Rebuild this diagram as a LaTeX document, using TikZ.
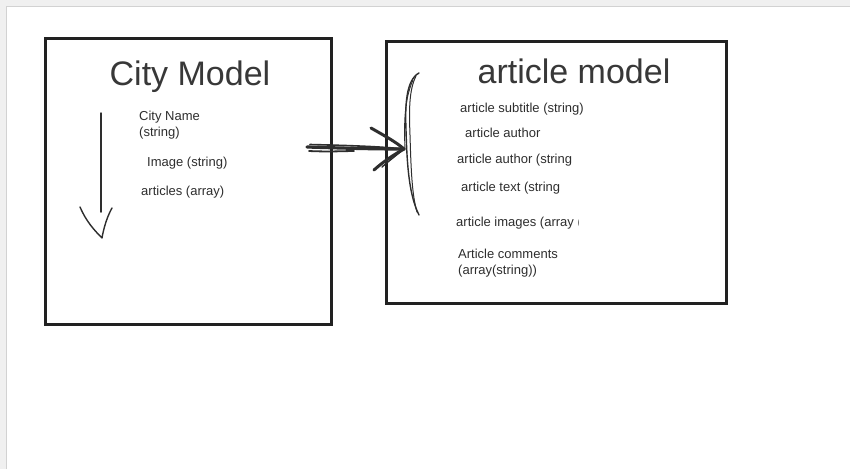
\documentclass[tikz,border=0pt]{standalone}
\usepackage{fontspec}
\setmainfont{Liberation Sans}
\begin{document}
\begin{tikzpicture}[x=1pt,y=-1pt,
  frame/.style={draw=black!87,line width=3pt},
  title/.style={anchor=base,text=black!78,font=\fontsize{34}{38}\selectfont,inner sep=0pt},
  field/.style={anchor=base west,text=black!82,font=\fontsize{13}{15}\selectfont,inner sep=0pt},
  sketch/.style={draw=black!82,line cap=round,line join=round},
]
\useasboundingbox (0,0) rectangle (850,469);
% page background
\fill[gray!12] (0,0) rectangle (850,469);
\fill[white] (6.5,6.5) rectangle (850,469);
\draw[gray!35,line width=1.2pt] (6.5,469) -- (6.5,6.5) -- (850,6.5);
% boxes
\node[frame,minimum width=286pt,minimum height=286pt,inner sep=0pt] (city) at (188,181) {};
\node[frame,minimum width=340pt,minimum height=262pt,inner sep=0pt] (art) at (556,172.5) {};
% titles
\node[title] (cityt) at (190,85) {City Model};
\node[title] (artt) at (574,83) {article model};
% city fields
\node[field] (cn) at (139,120) {City Name};
\node[field] (cs) at (139,136) {(string)};
\node[field] (ci) at (147,166) {Image (string)};
\node[field] (ca) at (141,195) {articles (array)};
% article fields
\node[field] (a1) at (460,112) {article subtitle (string)};
\node[field] (a2) at (465,137) {article author};
\node[field] (a3) at (457,163) {article author (string};
\node[field] (a4) at (461,191) {article text (string};
\begin{scope}
\clip (450,205) rectangle (578.4,235);
\node[field] (a5) at (456,226) {article images (array (string))};
\end{scope}
\node[field] (a6) at (458,258) {Article comments};
\node[field] (a7) at (458,274) {(array(string))};
% down arrow (hand drawn)
\coordinate (dtop) at (101,113);
\coordinate (dbot) at (101,212);
\coordinate (dtip) at (102,238);
\draw[sketch,line width=1.5pt] (dtop) -- (dbot);
\draw[sketch,line width=1.4pt] (80,207) .. controls (86,221) and (94,230) .. (dtip) .. controls (104,226) and (108,215) .. (112,208);
% big hand drawn arrow
\coordinate (s0) at (307,147);
\coordinate (tip) at (404,149);
\draw[sketch,line width=3.2pt] (s0) .. controls (340,148) and (370,149) .. (tip);
\draw[sketch,line width=1.6pt] (310,144.5) .. controls (350,145.5) and (380,146.5) .. (tip);
\draw[sketch,line width=1.8pt] (309,151) .. controls (330,152) and (345,151) .. (354,151);
\draw[sketch,line width=3pt] (371,128) .. controls (385,136) and (396,142) .. (tip);
\draw[sketch,line width=3pt] (374,170) .. controls (384,161) and (395,154) .. (tip);
\draw[sketch,line width=1.4pt] (382,167) .. controls (390,160) and (398,154) .. (tip);
% bracket
\draw[sketch,line width=1.4pt] (419,73) .. controls (406,80) and (405,105) .. (406,130) .. controls (407,165) and (409,195) .. (419,215);
\draw[sketch,line width=1pt] (416,76) .. controls (409,90) and (409,110) .. (410,135) .. controls (411,170) and (412,195) .. (417,212);
\draw[sketch,line width=0.9pt] (413,80) .. controls (404,100) and (404,125) .. (405,150);
\end{tikzpicture}
\end{document}
